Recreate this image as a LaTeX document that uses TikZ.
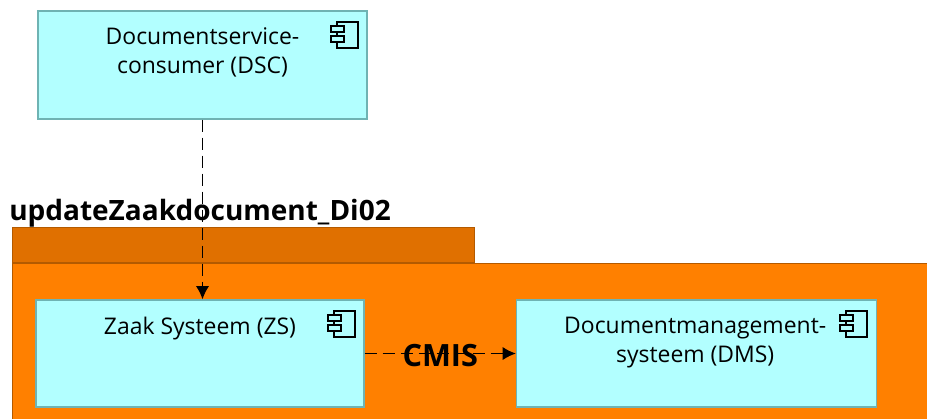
\documentclass[tikz,border=0pt]{standalone}
\usepackage{fontspec}
\setmainfont{Open Sans}
\usepackage{xcolor}
\usetikzlibrary{arrows.meta,positioning,calc}

\definecolor{compfill}{HTML}{B2FFFF}
\definecolor{compline}{HTML}{6FB3B3}
\definecolor{pkgfill}{HTML}{FF8000}
\definecolor{pkgtab}{HTML}{E07000}
\definecolor{pkgline}{HTML}{B35A00}

\begin{document}
\begin{tikzpicture}[x=0.75pt, y=-0.75pt, inner sep=0pt]
    \tikzstyle{comp} = [draw=compline, line width=0.9pt, fill=compfill, rectangle]
    \tikzstyle{complabel} = [align=center, font=\fontsize{17.2}{21.75}\selectfont]
    \tikzstyle{pkgtitle} = [font=\bfseries\fontsize{21}{24}\selectfont]
    \tikzstyle{link} = [draw, -{Latex[length=10pt,width=10pt]}, line width=1.3pt, dash pattern=on 9pt off 4.5pt]
    \tikzset{
        compicon/.pic={
            \draw [line width=1.4pt, fill=compfill] (-31,12) rectangle (-10,38);
            \draw [line width=1.4pt, fill=compfill] (-37,16) rectangle (-24,21.5);
            \draw [line width=1.4pt, fill=compfill] (-37,26) rectangle (-24,32);
        }
    }
    \clip (0,0) rectangle (927,418);

    % Package
    \node [draw=pkgline, line width=0.6pt, fill=pkgtab, minimum width=346.5pt, minimum height=26.5pt, anchor=north west] (tab) at (12,227) {};
    \node [draw=pkgline, line width=0.6pt, fill=pkgfill, minimum width=720pt, minimum height=140pt, anchor=north west] (pkg) at (tab.south west) {};
    \node [pkgtitle, anchor=base west] (title) at (9,220.5) {updateZaakdocument\_Di02};

    % Components
    \node [comp, minimum width=246.75pt, minimum height=81pt] (dsc) at (202.5,65) {};
    \node [comp, minimum width=246pt, minimum height=80.25pt] (zs) at (200,353.5) {};
    \node [comp, right=113.5pt of zs, minimum width=270pt, minimum height=80.25pt] (dms) {};

    \node [complabel, below=13pt of dsc.north] (dsctext) {Documentservice-\\consumer (DSC)};
    \node [complabel, below=13pt of zs.north] (zstext) {Zaak Systeem (ZS)};
    \node [complabel, below=13pt of dms.north, xshift=-1pt] (dmstext) {Documentmanagement-\\systeem (DMS)};

    \pic at (dsc.north east) {compicon};
    \pic at (zs.north east) {compicon};
    \pic at (dms.north east) {compicon};

    % Connectors
    \draw [link] (dsc.south) -- (dsc.south |- zs.north);
    \draw [link] (zs.east) -- node [font=\bfseries\fontsize{23}{26}\selectfont, yshift=-1.5pt] (cmis) {CMIS} (dms.west);
\end{tikzpicture}
\end{document}
